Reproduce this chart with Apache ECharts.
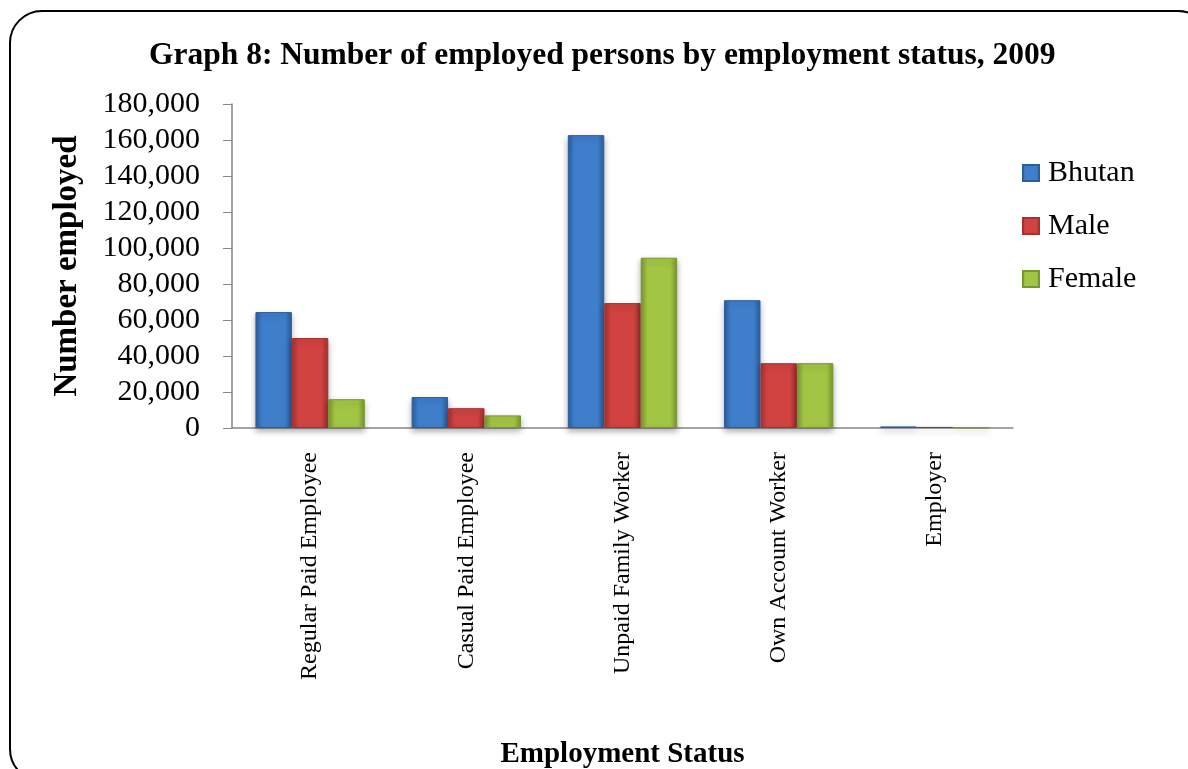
<!DOCTYPE html>
<html>
<head>
<meta charset="utf-8">
<title>Graph 8</title>
<script src="https://cdn.jsdelivr.net/npm/echarts@6/dist/echarts.min.js"></script>
<style>
  html, body { margin: 0; padding: 0; background: #fff; }
  #employment-status-chart { width: 1188px; height: 769px; }
</style>
</head>
<body>
<div id="employment-status-chart"></div>
<script>
const categories = ['Regular Paid Employee', 'Casual Paid Employee', 'Unpaid Family Worker', 'Own Account Worker', 'Employer'];
const bhutan = [64400, 17200, 162700, 71000, 900];
const male = [50000, 11000, 69400, 36000, 600];
const female = [16000, 7000, 94600, 36000, 300];
const yTicks = { min: 0, max: 180000, interval: 20000 };

const serif = 'Liberation Serif';

// darker edges, lighter middle, so the bars look a bit bevelled
function bevel(edge, mid) {
  return new echarts.graphic.LinearGradient(0, 0, 1, 0, [
    { offset: 0, color: edge },
    { offset: 0.18, color: mid },
    { offset: 0.82, color: mid },
    { offset: 1, color: edge }
  ]);
}

const chart = echarts.init(document.getElementById('employment-status-chart'));

function barSeries(name, data, edge, mid) {
  return {
    name: name,
    type: 'bar',
    data: data,
    barGap: '0%',
    barCategoryGap: '30%',
    itemStyle: {
      color: bevel(edge, mid),
      borderColor: edge,
      borderWidth: 1,
      shadowColor: 'rgba(0,0,0,0.3)',
      shadowBlur: 6,
      shadowOffsetY: 3
    }
  };
}

const option = {
  backgroundColor: '#fff',
  animation: false,
  title: {
    text: 'Graph 8: Number of employed persons by employment status, 2009',
    left: 144,
    top: 35,
    textStyle: { fontFamily: serif, fontWeight: 'bold', fontSize: 31.5, color: '#000' }
  },
  legend: {
    orient: 'vertical',
    left: 1022,
    top: 158,
    padding: 0,
    itemWidth: 16,
    itemHeight: 16,
    itemGap: 23,
    icon: 'rect',
    textStyle: { fontFamily: serif, fontSize: 30, color: '#000', padding: [0, 0, 0, 4] },
    data: ['Bhutan', 'Male', 'Female']
  },
  grid: {
    left: 232,
    right: 175,
    top: 104,
    bottom: 341,
    containLabel: false,
    outerBoundsMode: 'none'
  },
  xAxis: {
    type: 'category',
    data: categories,
    name: 'Employment Status',
    nameLocation: 'middle',
    nameGap: 312,
    nameTextStyle: { fontFamily: serif, fontWeight: 'bold', fontSize: 29, color: '#000' },
    axisLine: { lineStyle: { color: '#868686', width: 1.5 } },
    axisTick: { show: false },
    axisLabel: {
      interval: 0,
      rotate: 90,
      margin: 24,
      fontFamily: serif,
      fontSize: 24,
      color: '#000'
    }
  },
  yAxis: {
    type: 'value',
    min: yTicks.min,
    max: yTicks.max,
    interval: yTicks.interval,
    name: 'Number employed',
    nameLocation: 'middle',
    nameGap: 148,
    nameTextStyle: { fontFamily: serif, fontWeight: 'bold', fontSize: 33, color: '#000' },
    axisLine: { show: true, lineStyle: { color: '#868686', width: 1.5 } },
    axisTick: { show: true, inside: false, length: 9, lineStyle: { color: '#868686' } },
    splitLine: { show: false },
    axisLabel: {
      margin: 32,
      fontFamily: serif,
      fontSize: 30,
      color: '#000',
      formatter: function (v) { return v.toLocaleString('en-US'); }
    }
  },
  graphic: [{
    type: 'rect',
    shape: { x: 10, y: 11, width: 1200, height: 770, r: 32 },
    style: { fill: null, stroke: '#000', lineWidth: 2 },
    silent: true,
    z: 100
  }],
  series: [
    barSeries('Bhutan', bhutan, '#2c5d9c', '#3f7ecb'),
    barSeries('Male', male, '#a53130', '#d04341'),
    barSeries('Female', female, '#7a9630', '#a2c544')
  ]
};

chart.setOption(option);
</script>
</body>
</html>
